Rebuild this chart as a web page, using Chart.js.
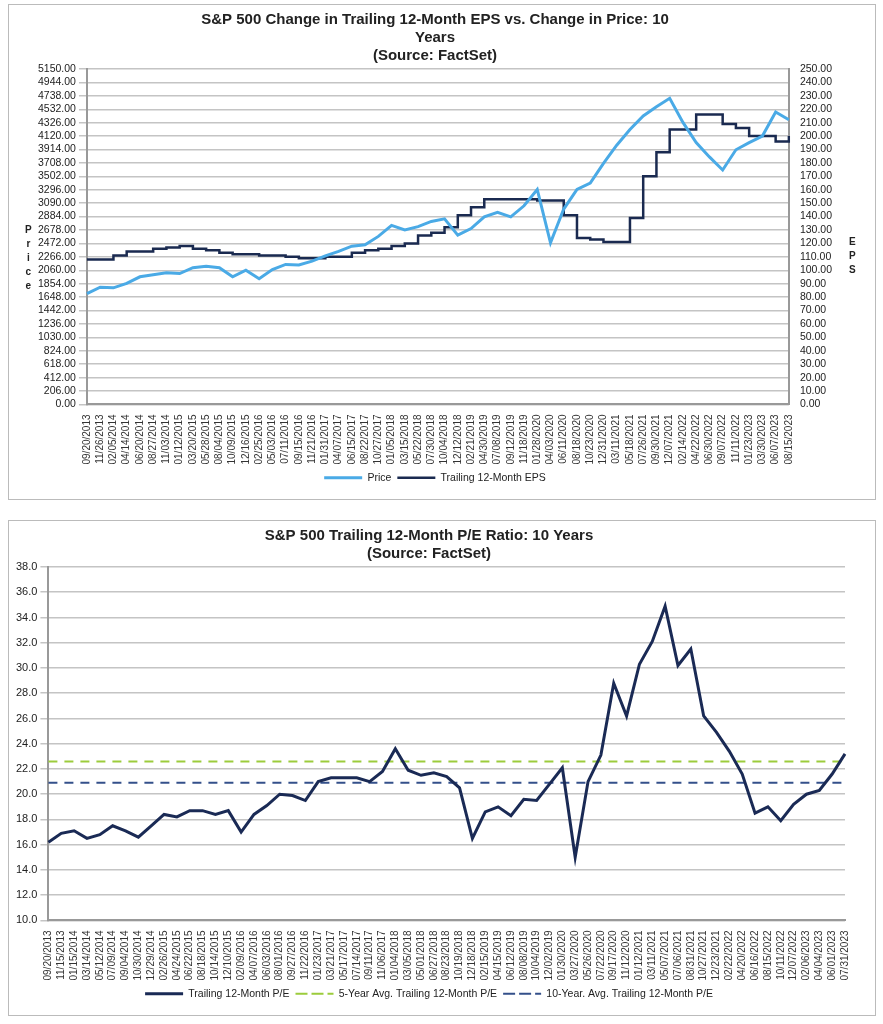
<!DOCTYPE html>
<html><head><meta charset="utf-8">
<script src="https://cdn.jsdelivr.net/npm/chart.js@4"></script>
<style>
body{margin:0;background:#fff;font-family:"Liberation Sans",Arial,sans-serif;}
.box{position:absolute;left:8px;width:866px;height:494px;border:1px solid #bbb;background:#fff;}
.letters{position:absolute;font:bold 10px "Liberation Sans",Arial;line-height:14px;text-align:center;color:#222;}
</style></head><body>
<div class="box" style="top:4px"><canvas id="c1" width="866" height="494"></canvas>
<div class="letters" style="left:16px;top:218px">P<br>r<br>i<br>c<br>e</div>
<div class="letters" style="left:840px;top:230px">E<br>P<br>S</div></div>
<div class="box" style="top:520px"><canvas id="c2" width="866" height="494"></canvas></div>
<script>
const dates1=["09/20/2013","11/26/2013","02/05/2014","04/14/2014","06/20/2014","08/27/2014","11/03/2014","01/12/2015","03/20/2015","05/28/2015","08/04/2015","10/09/2015","12/16/2015","02/25/2016","05/03/2016","07/11/2016","09/15/2016","11/21/2016","01/31/2017","04/07/2017","06/15/2017","08/22/2017","10/27/2017","01/05/2018","03/15/2018","05/22/2018","07/30/2018","10/04/2018","12/12/2018","02/21/2019","04/30/2019","07/08/2019","09/12/2019","11/18/2019","01/28/2020","04/03/2020","06/11/2020","08/18/2020","10/23/2020","12/31/2020","03/11/2021","05/18/2021","07/26/2021","09/30/2021","12/07/2021","02/14/2022","04/22/2022","06/30/2022","09/07/2022","11/11/2022","01/23/2023","03/30/2023","06/07/2023","08/15/2023"];
const price=[1700,1800,1790,1860,1960,1990,2020,2010,2100,2120,2100,1960,2060,1930,2070,2150,2140,2200,2280,2350,2430,2450,2580,2750,2680,2730,2810,2850,2600,2700,2880,2950,2880,3050,3300,2480,3000,3300,3400,3700,3980,4220,4430,4570,4700,4330,4020,3800,3600,3910,4020,4120,4490,4370];
const eps=[108,108,111,114,114,116,117,118,116,115,113,112,112,111,111,110,109,109,110,110,113,115,116,118,120,126,128,132,141,147,153,153,153,153,152,152,141,124,123,121,121,139,170,188,205,205,216,216,209,206,200,200,196,200];
const dates2=["09/20/2013","11/15/2013","01/15/2014","03/14/2014","05/12/2014","07/09/2014","09/04/2014","10/30/2014","12/29/2014","02/26/2015","04/24/2015","06/22/2015","08/18/2015","10/14/2015","12/10/2015","02/09/2016","04/07/2016","06/03/2016","08/01/2016","09/27/2016","11/22/2016","01/23/2017","03/21/2017","05/17/2017","07/14/2017","09/11/2017","11/06/2017","01/04/2018","03/05/2018","05/01/2018","06/27/2018","08/23/2018","10/19/2018","12/18/2018","02/15/2019","04/15/2019","06/12/2019","08/08/2019","10/04/2019","12/02/2019","01/30/2020","03/27/2020","05/26/2020","07/22/2020","09/17/2020","11/12/2020","01/12/2021","03/11/2021","05/07/2021","07/06/2021","08/31/2021","10/27/2021","12/23/2021","02/22/2022","04/20/2022","06/16/2022","08/15/2022","10/11/2022","12/07/2022","02/06/2023","04/04/2023","06/01/2023","07/31/2023"];
const pe=[16.2,16.9,17.1,16.5,16.8,17.5,17.1,16.6,17.5,18.4,18.2,18.7,18.7,18.4,18.7,17.0,18.4,19.1,20.0,19.9,19.5,21.0,21.3,21.3,21.3,21.0,21.8,23.6,21.9,21.5,21.7,21.4,20.5,16.5,18.6,19.0,18.3,19.6,19.5,20.8,22.1,15.0,21.0,23.1,28.8,26.2,30.3,32.1,34.9,30.2,31.5,26.2,24.9,23.4,21.6,18.5,19.0,17.9,19.2,20.0,20.3,21.6,23.2];
const avg5=22.6, avg10=20.9;

const F="'Liberation Sans',Arial,sans-serif";
Chart.defaults.font.family=F; Chart.defaults.color='#222';
const grid={color:'#c4c4c4',lineWidth:1.5};
const xAxis={grid:{display:false},border:{color:'#999',width:2},ticks:{autoSkip:false,maxRotation:90,minRotation:90,font:{size:10},color:'#333',padding:2}};
const legend={position:'bottom',labels:{boxWidth:38,boxHeight:0,font:{size:10.5},color:'#222',padding:6}};

new Chart(document.getElementById('c1'),{type:'line',
data:{labels:dates1,datasets:[
{label:'Price',data:price,borderColor:'#4aaae6',backgroundColor:'#4aaae6',borderWidth:3,pointRadius:0,tension:0,yAxisID:'y'},
{label:'Trailing 12-Month EPS',data:eps,borderColor:'#1a2a50',backgroundColor:'#1a2a50',borderWidth:2.5,pointRadius:0,stepped:'before',yAxisID:'y2'}]},
options:{responsive:false,animation:false,layout:{padding:{left:26,right:40,top:0,bottom:6}},
plugins:{legend,title:{display:true,text:['S&P 500 Change in Trailing 12-Month EPS vs. Change in Price: 10','Years','(Source: FactSet)'],font:{size:15,weight:'bold'},color:'#222',padding:{top:6,bottom:4},lineHeight:1.0}},
scales:{x:xAxis,
y:{position:'left',min:0,max:5150,grid,border:{color:'#999',width:2},ticks:{autoSkip:false,stepSize:206,callback:v=>v.toFixed(2),font:{size:10.5},color:'#222'}},
y2:{position:'right',min:0,max:250,grid:{display:false},border:{color:'#999',width:2},ticks:{autoSkip:false,stepSize:10,callback:v=>v.toFixed(2),font:{size:10.5},color:'#222'}}}}});

new Chart(document.getElementById('c2'),{type:'line',
data:{labels:dates2,datasets:[
{label:'Trailing 12-Month P/E',data:pe,borderColor:'#1a2a55',backgroundColor:'#1a2a55',borderWidth:3,pointRadius:0,tension:0},
{label:'5-Year Avg. Trailing 12-Month P/E',data:dates2.map(()=>avg5),borderColor:'#9ccc3c',backgroundColor:'#9ccc3c',borderWidth:2,borderDash:[9,7],pointRadius:0},
{label:'10-Year. Avg. Trailing 12-Month P/E',data:dates2.map(()=>avg10),borderColor:'#34508a',backgroundColor:'#34508a',borderWidth:2,borderDash:[9,7],pointRadius:0}]},
options:{responsive:false,animation:false,layout:{padding:{left:4,right:30,top:0,bottom:6}},
plugins:{legend,title:{display:true,text:['S&P 500 Trailing 12-Month P/E Ratio: 10 Years','(Source: FactSet)'],font:{size:15,weight:'bold'},color:'#222',padding:{top:6,bottom:4},lineHeight:1.0}},
scales:{x:xAxis,
y:{min:10,max:38,grid,border:{color:'#999',width:2},ticks:{stepSize:2,callback:v=>v.toFixed(1),font:{size:11},color:'#222'}}}}});
</script></body></html>
